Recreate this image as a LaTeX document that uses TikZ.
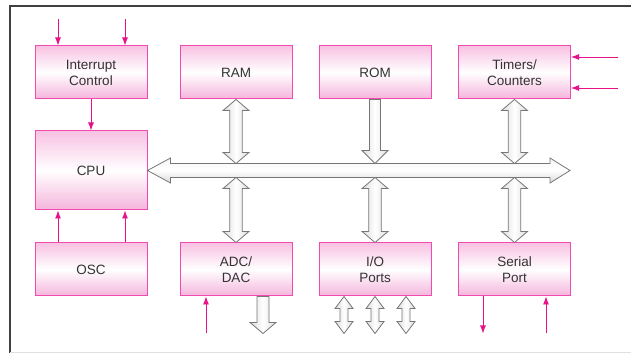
\documentclass[tikz,border=0pt]{standalone}
\usepackage{fontspec}
\setmainfont{Liberation Sans}
\usepackage{tikz}
\usetikzlibrary{arrows.meta, calc, positioning}

\definecolor{boxline}{HTML}{F04CAF}
\definecolor{boxtop}{HTML}{F8C2E3}
\definecolor{boxbot}{HTML}{F5B4DC}
\definecolor{sigpink}{HTML}{E8118A}
\definecolor{txtgray}{HTML}{333333}
\definecolor{arrline}{HTML}{777777}

% vertical hollow arrow, both ends: #1 top tip, #2 bottom tip, #3 half shaft, #4 half head, #5 head length
\newcommand{\vbidir}[5]{%
  \path[bigarrow] let \p1=(#1), \p2=(#2) in
    (\x1,\y1) -- (\x1+#4pt,\y1-#5pt) -- (\x1+#3pt,\y1-#5pt) -- (\x1+#3pt,\y2+#5pt)
    -- (\x1+#4pt,\y2+#5pt) -- (\x1,\y2) -- (\x1-#4pt,\y2+#5pt) -- (\x1-#3pt,\y2+#5pt)
    -- (\x1-#3pt,\y1-#5pt) -- (\x1-#4pt,\y1-#5pt) -- cycle;}
% vertical hollow arrow, pointing down: #1 start, #2 tip
\newcommand{\vdown}[5]{%
  \path[bigarrow] let \p1=(#1), \p2=(#2) in
    (\x1-#3pt,\y1) -- (\x1+#3pt,\y1) -- (\x1+#3pt,\y2+#5pt) -- (\x1+#4pt,\y2+#5pt)
    -- (\x1,\y2) -- (\x1-#4pt,\y2+#5pt) -- (\x1-#3pt,\y2+#5pt) -- cycle;}

\tikzset{
  block/.style={draw=boxline, line width=1pt, top color=boxtop, bottom color=boxbot,
    middle color=white, minimum width=112pt, minimum height=53pt, align=center,
    text=txtgray, font=\fontsize{13.5}{16}\selectfont},
  sig/.style={draw=sigpink, line width=0.9pt, -{Latex[length=8pt,width=6pt]}},
  bigarrow/.style={draw=arrline, line width=0.8pt, left color=gray!28,
    right color=gray!28, middle color=white},
  busarrow/.style={draw=arrline, line width=0.8pt, top color=gray!8,
    bottom color=gray!30, middle color=white}
}

\begin{document}
\begin{tikzpicture}[x=1pt, y=1pt]
  \useasboundingbox (0,0) rectangle (631,353);

  % frame
  \draw[line width=1.2pt, black!75] (631,347) -- (10,347) -- (10,0);
  \draw[line width=1pt, black!12] (10,1) -- (631,1);

  % blocks
  \node[block] (intc) at (91,280.5) {Interrupt\\Control};
  \node[block] (ram) at (236,280.5) {RAM};
  \node[block] (rom) at (375,280.5) {ROM};
  \node[block] (tim) at (514.5,280.5) {Timers/\\Counters};
  \node[block, minimum height=79pt] (cpu) at (91,182.5) {CPU};
  \node[block] (osc) at (91,83.5) {OSC};
  \node[block] (adc) at (236,83.5) {ADC/\\DAC};
  \node[block] (io) at (375,83.5) {I/O\\Ports};
  \node[block] (ser) at (514.5,83.5) {Serial\\Port};

  % bus
  \coordinate (busend) at (570,182.5);
  \coordinate (bustop) at (0,189.5);
  \coordinate (busbot) at (0,175.5);
  \path[busarrow] let \p1=(cpu.east), \p2=(busend) in
    (\x1,\y1) -- (\x1+23pt,\y1+12.5pt) -- (\x1+23pt,\y1+7pt) -- (\x2-20pt,\y1+7pt)
    -- (\x2-20pt,\y1+12.5pt) -- (\x2,\y1) -- (\x2-20pt,\y1-12.5pt) -- (\x2-20pt,\y1-7pt)
    -- (\x1+23pt,\y1-7pt) -- (\x1+23pt,\y1-12.5pt) -- cycle;

  % bus connections
  \vbidir{ram.south}{ram.south |- bustop}{6.3}{13}{11}
  \vdown{rom.south}{rom.south |- bustop}{5.5}{13}{13}
  \vbidir{tim.south}{tim.south |- bustop}{6.3}{13}{11}
  \vbidir{adc.north |- busbot}{adc.north}{6.3}{13}{11}
  \vbidir{io.north |- busbot}{io.north}{6.3}{13}{11}
  \vbidir{ser.north |- busbot}{ser.north}{6.3}{13}{11}

  % external ports
  \coordinate (adcout) at ($(adc.south)+(27,-37)$);
  \vdown{adc.south -| adcout}{adcout}{6}{13}{11}
  \coordinate (ioa) at ($(io.south)+(-31,-37)$);
  \coordinate (iob) at ($(io.south)+(0,-37)$);
  \coordinate (ioc) at ($(io.south)+(31,-37)$);
  \foreach \port in {ioa,iob,ioc}
    \vbidir{io.south -| \port}{\port}{4}{9}{12};

  % signals
  \coordinate (irqa) at ($(intc.north)+(-33,26)$);
  \coordinate (irqb) at ($(intc.north)+(34,26)$);
  \draw[sig] (irqa) -- (irqa |- intc.north);
  \draw[sig] (irqb) -- (irqb |- intc.north);
  \draw[sig] (intc.south) -- (cpu.north);
  \draw[sig] ($(osc.north)+(-33,0)$) -- ($(cpu.south)+(-33,0)$);
  \draw[sig] ($(osc.north)+(34,0)$) -- ($(cpu.south)+(34,0)$);
  \coordinate (tina) at (618,296);
  \coordinate (tinb) at (618,265);
  \draw[sig] (tina) -- (tina -| tim.east);
  \draw[sig] (tinb) -- (tinb -| tim.east);
  \coordinate (adcin) at ($(adc.south)+(-30,-37)$);
  \draw[sig] (adcin) -- (adcin |- adc.south);
  \coordinate (txd) at ($(ser.south)+(-31.5,-37)$);
  \coordinate (rxd) at ($(ser.south)+(31.5,-37)$);
  \draw[sig] (txd |- ser.south) -- (txd);
  \draw[sig] (rxd) -- (rxd |- ser.south);
\end{tikzpicture}
\end{document}
